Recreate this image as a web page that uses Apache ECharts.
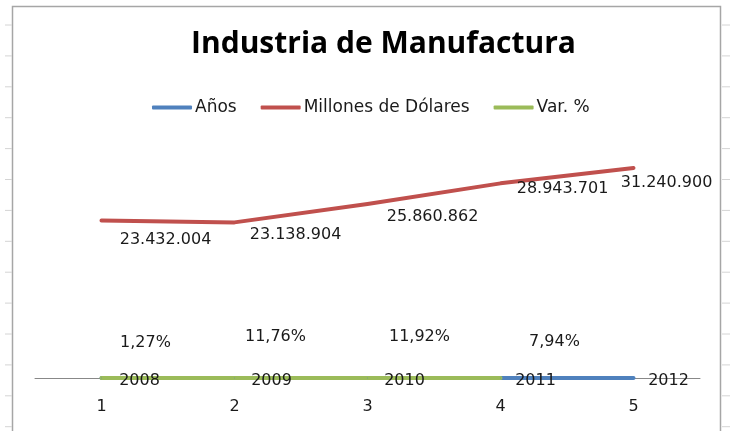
<!DOCTYPE html>
<html lang="es">
<head>
    <meta charset="UTF-8">
    <title>Industria de Manufactura</title>
    <style>
        html, body { margin: 0; padding: 0; background: #fff; }
        #main { width: 730px; height: 431px; }
    </style>
</head>
<body>
<div id="main"></div>
<script src="https://cdn.jsdelivr.net/npm/echarts@6/dist/echarts.min.js"></script>
<script>
    // datos
    var categorias = ['1', '2', '3', '4', '5'];
    var anios = [2008, 2009, 2010, 2011, 2012];
    var millones = [23432004, 23138904, 25860862, 28943701, 31240900];
    var variacion = [1.27, 11.76, 11.92, 7.94];

    // desplazamiento de etiquetas (px), como en el original
    var offAnios = [[38, 3], [37, 3], [37, 3], [35, 3], [35, 3]];
    var offMillones = [[64, 19], [61, 12], [65, 13], [62, 5], [33, 15]];
    var offVar = [[44, -35], [41, -41], [52, -41], [54, -36]];

    var fuenteTexto = '"DejaVu Sans", Verdana, sans-serif';
    var fuenteTitulo = '"Open Sans", sans-serif';

    function conOffset(valores, offs) {
        return valores.map(function (v, i) {
            return { value: v, label: { offset: offs[i] } };
        });
    }

    function miles(n) {
        return String(n).replace(/\B(?=(\d{3})+(?!\d))/g, '.');
    }

    var lineaBase = {
        type: 'line',
        symbol: 'circle',
        symbolSize: 1,
        lineStyle: { width: 4, cap: 'round', join: 'round' },
        label: {
            show: true,
            position: 'inside',
            color: '#1a1a1a',
            fontFamily: fuenteTexto,
            fontSize: 16
        },
        emphasis: { disabled: true }
    };

    // marcas de la hoja de calculo a los lados
    var marcas = [];
    for (var y = 25; y < 431; y += 30.9) {
        marcas.push({ type: 'line', shape: { x1: 5, y1: y, x2: 12, y2: y }, style: { stroke: '#d4d4d4', lineWidth: 1 } });
        marcas.push({ type: 'line', shape: { x1: 722, y1: y, x2: 730, y2: y }, style: { stroke: '#d4d4d4', lineWidth: 1 } });
    }
    marcas.push({
        type: 'rect', shape: { x: 12.5, y: 6.5, width: 708, height: 430 },
        style: { fill: 'none', stroke: '#a6a6a6', lineWidth: 1.5 }, z: -1
    });

    var myChart = echarts.init(document.getElementById('main'));
    myChart.setOption({
        animation: false,
        backgroundColor: '#fff',
        title: {
            text: 'Industria de Manufactura',
            left: 186,
            top: 24,
            textStyle: { fontFamily: fuenteTitulo, fontSize: 30, fontWeight: 'bold', color: '#000' }
        },
        legend: {
            left: 147,
            top: 94,
            itemWidth: 40,
            itemHeight: 4,
            itemGap: 24,
            icon: 'roundRect',
            textStyle: { fontFamily: fuenteTexto, fontSize: 17, color: '#1a1a1a', padding: [0, 0, 0, -2] },
            data: ['Años', 'Millones de Dólares', 'Var. %']
        },
        graphic: marcas,
        grid: { left: 35, right: 30, top: 109, bottom: 53 },
        xAxis: {
            type: 'category',
            data: categorias,
            boundaryGap: true,
            axisLine: { lineStyle: { color: '#888', width: 1 } },
            axisTick: { show: false },
            axisLabel: { margin: 21, color: '#1a1a1a', fontFamily: fuenteTexto, fontSize: 16 }
        },
        yAxis: {
            type: 'value',
            min: 0,
            max: 40000000,
            show: false,
            splitLine: { show: false }
        },
        series: [
            Object.assign({}, lineaBase, {
                name: 'Años',
                color: '#4f81bd',
                data: conOffset(anios, offAnios),
                label: Object.assign({}, lineaBase.label, { formatter: function (p) { return String(p.value); } })
            }),
            Object.assign({}, lineaBase, {
                name: 'Millones de Dólares',
                color: '#c0504d',
                data: conOffset(millones, offMillones),
                label: Object.assign({}, lineaBase.label, { formatter: function (p) { return miles(p.value); } })
            }),
            Object.assign({}, lineaBase, {
                name: 'Var. %',
                color: '#9bbb59',
                data: conOffset(variacion, offVar),
                label: Object.assign({}, lineaBase.label, {
                    formatter: function (p) { return p.value.toFixed(2).replace('.', ',') + '%'; }
                })
            })
        ]
    });
</script>
</body>
</html>
